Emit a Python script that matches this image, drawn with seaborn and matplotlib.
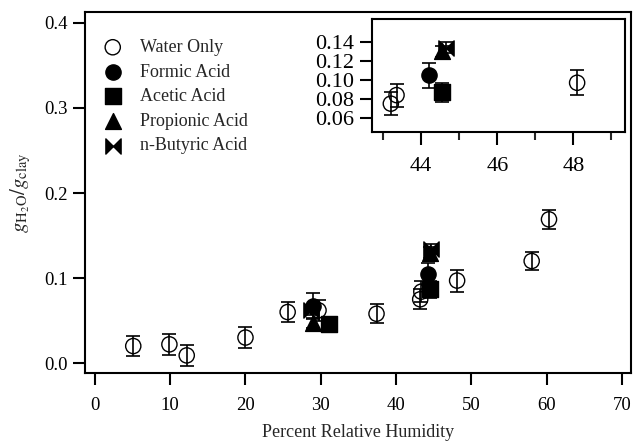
import matplotlib
matplotlib.use("Agg")
import matplotlib.pyplot as plt
import seaborn as sns
import numpy as np
import pandas as pd
from matplotlib.path import Path

# water uptake data
water_rh = [5.1, 9.9, 12.2, 20.0, 25.6, 29.7, 37.4, 43.2, 43.35, 48.1, 58.0, 60.3]
water_g = [0.020, 0.022, 0.009, 0.030, 0.060, 0.062, 0.058, 0.075, 0.084, 0.097, 0.120, 0.169]
water_err = [0.012, 0.012, 0.012, 0.012, 0.012, 0.012, 0.011, 0.012, 0.012, 0.013, 0.011, 0.011]

formic_rh = [29.0, 44.2]
formic_g = [0.067, 0.105]
formic_err = [0.015, 0.013]

acetic_rh = [31.1, 44.55]
acetic_g = [0.046, 0.087]
acetic_err = [0.006, 0.010]

propionic_rh = [29.0, 44.55]
propionic_g = [0.047, 0.130]
propionic_err = [0.006, 0.006]

butyric_rh = [28.7, 44.65]
butyric_g = [0.062, 0.134]
butyric_err = [0.006, 0.006]

labels = ["Water Only", "Formic Acid", "Acetic Acid", "Propionic Acid", "n-Butyric Acid"]

bowtie = Path([(-1, -1), (-1, 1), (0, 0), (1, 1), (1, -1), (0, 0), (-1, -1)],
              [Path.MOVETO, Path.LINETO, Path.LINETO, Path.LINETO, Path.LINETO, Path.LINETO, Path.CLOSEPOLY])

series = [
    (labels[0], water_rh, water_g, water_err, "o", "none", 120),
    (labels[1], formic_rh, formic_g, formic_err, "o", "black", 120),
    (labels[2], acetic_rh, acetic_g, acetic_err, "s", "black", 120),
    (labels[3], propionic_rh, propionic_g, propionic_err, "^", "black", 130),
    (labels[4], butyric_rh, butyric_g, butyric_err, bowtie, "black", 120),
]

sns.set_style("ticks")
plt.rcParams['font.family'] = ['Liberation Serif', 'DejaVu Serif']
plt.rcParams['mathtext.fontset'] = 'stix'

fig = plt.figure(figsize=(6.33, 4.41), dpi=100)
ax = fig.add_axes([0.134, 0.154, 0.863, 0.819])
axin = fig.add_axes([0.588, 0.701, 0.400, 0.256])


def draw(a, show_label):
    for name, xs, ys, es, mk, fc, sz in series:
        a.errorbar(xs, ys, yerr=es, fmt='none', ecolor='black', elinewidth=1.2,
                   capsize=5, capthick=1.2, zorder=2)
        df = pd.DataFrame({"rh": xs, "g": ys})
        sns.scatterplot(data=df, x="rh", y="g", ax=a, marker=mk, s=sz,
                        facecolor=fc, edgecolor='black', linewidth=1.0,
                        label=name if show_label else None, zorder=3)


draw(ax, True)
draw(axin, False)

for a in (ax, axin):
    for sp in a.spines.values():
        sp.set_linewidth(1.5)
        sp.set_color('black')
    a.tick_params(direction='out', width=1.5, length=8.5, color='black', labelcolor='black')
    a.set_xlabel("")
    a.set_ylabel("")

ax.set_xlim(-1.33, 71.2)
ax.set_ylim(-0.0118, 0.413)
ax.set_xticks(np.arange(0, 71, 10))
ax.set_yticks([0.0, 0.1, 0.2, 0.3, 0.4])
ax.set_yticklabels(["0.0", "0.1", "0.2", "0.3", "0.4"])
ax.tick_params(labelsize=13.5)
ax.tick_params(axis='x', pad=9)
ax.tick_params(axis='y', pad=4)
ax.set_xlabel("Percent Relative Humidity", fontsize=13, labelpad=7)
ax.set_ylabel(r"$g_{\mathrm{H_2O}}/g_{\mathrm{clay}}$", fontsize=15, labelpad=8)

axin.set_facecolor('white')
axin.set_xlim(42.71, 49.37)
axin.set_ylim(0.0453, 0.1642)
axin.set_xticks([44, 46, 48])
axin.set_xticks([43, 45, 47, 49], minor=True)
axin.set_yticks([0.06, 0.08, 0.10, 0.12, 0.14])
axin.set_yticklabels(["0.06", "0.08", "0.10", "0.12", "0.14"])
axin.tick_params(which='both', direction='out', width=1.5, length=9, labelsize=16)
axin.tick_params(which='minor', length=5.5)
axin.tick_params(axis='x', which='both', pad=9)
axin.tick_params(axis='y', pad=4)

leg = ax.legend(loc='upper left', bbox_to_anchor=(-0.015, 0.975), frameon=False,
                fontsize=13, handletextpad=0.5, labelspacing=0.42, borderaxespad=0.6)

fig.savefig("out.png", dpi=100)
